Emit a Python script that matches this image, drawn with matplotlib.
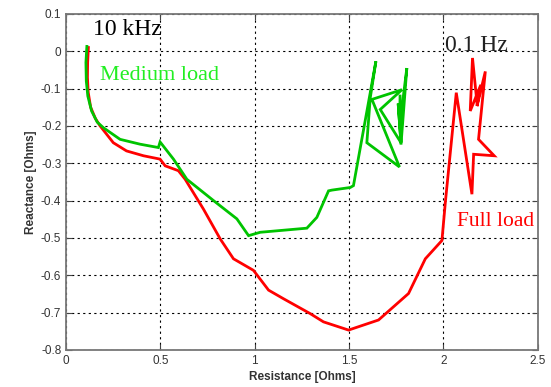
import matplotlib.pyplot as plt

# full load trace, 10 kHz -> 0.1 Hz
full_r = [0.118, 0.114, 0.113, 0.117, 0.13, 0.155, 0.18, 0.25, 0.32, 0.41, 0.498, 0.525, 0.595,
          0.631, 0.728, 0.817, 0.887, 0.993, 1.073, 1.152, 1.294, 1.364, 1.497, 1.656, 1.815,
          1.904, 1.992, 2.01, 2.068, 2.151, 2.16, 2.269, 2.186, 2.222, 2.178, 2.198, 2.142,
          2.154, 2.178]
full_x = [0.01, -0.03, -0.07, -0.11, -0.15, -0.18, -0.2, -0.245, -0.267, -0.28, -0.289, -0.307, -0.32,
          -0.343, -0.423, -0.503, -0.556, -0.587, -0.64, -0.663, -0.703, -0.725, -0.747, -0.72, -0.649,
          -0.556, -0.507, -0.405, -0.111, -0.383, -0.276, -0.28, -0.236, -0.054, -0.147, -0.09, -0.16,
          -0.018, -0.14]

# medium load trace
med_r = [0.11, 0.105, 0.107, 0.115, 0.135, 0.165, 0.198, 0.286, 0.392, 0.489, 0.498, 0.569,
         0.64, 0.781, 0.905, 0.967, 1.029, 1.276, 1.329, 1.391, 1.409, 1.506, 1.523,
         1.642, 1.612, 1.594, 1.767, 1.621, 1.78, 1.665, 1.775, 1.76, 1.775, 1.806, 1.768, 1.77]
med_x = [0.013, -0.03, -0.08, -0.12, -0.16, -0.19, -0.205, -0.236, -0.249, -0.258, -0.243, -0.289,
         -0.343, -0.4, -0.449, -0.494, -0.485, -0.474, -0.445, -0.374, -0.372, -0.365, -0.36,
         -0.027, -0.125, -0.245, -0.31, -0.129, -0.103, -0.156, -0.245, -0.14, -0.25, -0.045, -0.2, -0.12]

xticks = [0, 0.5, 1, 1.5, 2, 2.5]
xticklabels = ['0', '0.5', '1', '1.5', '2', '2.5']
yticks = [0.1, 0, -0.1, -0.2, -0.3, -0.4, -0.5, -0.6, -0.7, -0.8]
yticklabels = ['0.1', '0', '-0.1', '-0.2', '-0.3', '-0.4', '-0.5', '-0.6', '-0.7', '-0.8']

plt.rcParams['font.family'] = ['Liberation Sans', 'DejaVu Sans']

fig = plt.figure(figsize=(5.51, 3.87), dpi=100)
ax = fig.add_axes([0.12, 0.096, 0.856, 0.868])

ax.plot(full_r, full_x, color='#ff0000', lw=2.0, solid_joinstyle='miter')
ax.plot(med_r, med_x, color='#00c400', lw=2.0, solid_joinstyle='miter')

ax.set_xlim(0, 2.5)
ax.set_ylim(-0.8, 0.1)
ax.set_xticks(xticks)
ax.set_xticklabels(xticklabels)
ax.set_yticks(yticks)
ax.set_yticklabels(yticklabels)
ax.grid(True, color='black', linestyle=(0, (2, 3)), lw=0.8)
ax.tick_params(direction='in', length=4, labelsize=8.5, labelcolor='#333333',
               top=True, right=True, color='#444444')
for s in ax.spines.values():
    s.set_color('#777777')
    s.set_linewidth(1.3)

ax.set_xlabel('Resistance [Ohms]', fontsize=8.5, fontweight='bold', color='#333333', labelpad=3)
ax.set_ylabel('Reactance [Ohms]', fontsize=8.5, fontweight='bold', color='#333333', labelpad=3)

serif = ['Liberation Serif', 'DejaVu Serif']
ax.text(0.143, 0.044, '10 kHz', family=serif, fontsize=17, color='black', va='baseline')
ax.text(0.18, -0.078, 'Medium load', family=serif, fontsize=16, color='#22ee22', va='baseline')
ax.text(2.01, 0.0, '0.1 Hz', family=serif, fontsize=17, color='#222222', va='baseline')
ax.text(2.072, -0.469, 'Full load', family=serif, fontsize=15.5, color='#ff0000', va='baseline')

fig.savefig('out.png', dpi=100)
